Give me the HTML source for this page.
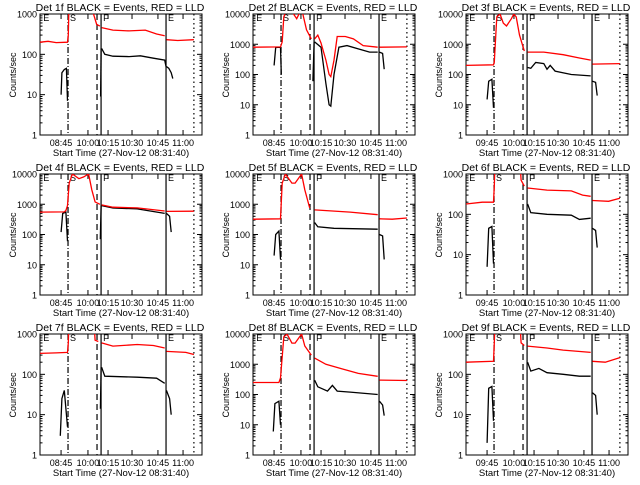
<!DOCTYPE html>
<html><head><meta charset="utf-8"><style>
html,body{margin:0;padding:0;background:#fff}
svg text{font-family:"Liberation Sans",sans-serif;fill:#000}
</style></head><body>
<svg id="c" width="640" height="480" xmlns="http://www.w3.org/2000/svg"></svg>
<script>
const tickLabelsA = ["08:45","10:00","10:15","10:30","10:45","11:00"];
const tickLabelsB = ["09:45","10:00","10:15","10:30","10:45","11:00"];
const tickTimes = [13, 29.6, 42, 56.8, 72.8, 88.3];
const markerTimes = [17.3, 35.2, 37.7, 77.8, 95];
const markerLetters = [["E",2],["S",18.5],["F",39],["E",79]];
const panelNames = ["Det 1f","Det 2f","Det 3f","Det 4f","Det 5f","Det 6f","Det 7f","Det 8f","Det 9f"];
const panelTops = [1000,10000,10000,10000,10000,1000,1000,10000,1000];
const panelTickSet = ["A","A","B","A","A","B","A","A","B"];

const p1Red=[[[0,200],[5,210],[10,195],[17,200],[17.5,300],[18,3000]],[[32,3000],[33,1000],[35,550],[37,500]],[[38,460],[45,400],[55,380],[65,400],[72,320],[77,290]],[[78,230],[85,220],[95,230]]];
const p1Black=[[[13,10],[13.5,35],[15,42],[16.3,45],[17,7]],[[37.4,9],[37.7,140]],[[38,140],[40,100],[45,90],[55,88],[62,92],[70,80],[77,72],[77.8,50]],[[78,50],[79.5,45],[81,35],[82,25]]];
const p2Red=[[[0,800],[17,820],[18,1200],[19,8000],[21,15000],[24,12000],[27,7000],[30,15000],[33,3000],[36,1500]],[[38,1500],[40,2000],[42,1100],[45,300],[47,100],[48,85],[50,300],[52,1800],[57,1800],[62,1500],[68,900],[77,800]],[[78,800],[95,820]]];
const p2Black=[[[13,200],[14,780],[17,800],[17.5,100]],[[37,60],[37.7,1200]],[[38,1200],[42,800],[45,50],[47,10],[48,9],[50,100],[53,800],[58,900],[65,700],[72,550],[77,550]],[[78,550],[80,500],[81,150]]];
const p3Red=[[[0,200],[17,210],[17.5,260],[19,8000],[21,10000],[23,5000],[25,4000],[28,7000],[29.5,10000],[31,8000],[33,2000],[36,600]],[[38,550],[48,550],[60,450],[70,350],[77,300]],[[78,220],[95,230]]];
const p3Black=[[[13,15],[14,60],[16,70],[17,8]],[[38,170],[40,160],[43,250],[48,230],[50,150],[52,200],[55,130],[65,100],[77,90]],[[78,60],[80,55],[81,20]]];
const p4Red=[[[0,550],[15,560],[16,620],[17,900],[18,5000],[20,10000],[24,7000],[27,8000],[30,10000],[32,3000],[34,1200],[37,1000]],[[38,950],[45,800],[60,760],[77,600]],[[78,580],[95,590]]];
const p4Black=[[[13,120],[14,500],[16,550],[17,60]],[[37.2,70],[37.7,900]],[[38,900],[45,750],[60,700],[77,500]],[[78,500],[80,400],[81,120]]];
const p5Red=[[[0,320],[17,330],[18,5000],[20,10000],[24,5000],[26,5000],[30,10000],[32,3000],[35,750]],[[38,650],[60,550],[77,450]],[[78,330],[86,320],[95,350]]];
const p5Black=[[[13,20],[14,100],[16,130],[17,15]],[[38,250],[40,180],[50,160],[77,150]],[[78,100],[80,90],[81,15]]];
const p6Red=[[[0,180],[10,200],[17,200],[17.5,500],[18,3000]],[[33,3000],[34,700],[36,500]],[[38,450],[50,400],[65,380],[72,300],[77,280]],[[78,220],[88,210],[95,250]]];
const p6Black=[[[13,5],[14,45],[16,50],[17,6]],[[38,180],[40,110],[50,100],[65,95],[70,75],[77,80]],[[78,45],[80,40],[81,15]]];
const p7Red=[[[0,330],[10,340],[17,350],[17.5,600],[18,3000]],[[33,3000],[34,700],[36,650]],[[38,600],[45,500],[60,550],[70,520],[77,450]],[[78,370],[90,350],[95,310]]];
const p7Black=[[[12.5,3],[13.5,25],[15,40],[17,5]],[[37.3,14],[37.7,150]],[[38,150],[40,90],[60,85],[72,80],[77,60]],[[78,40],[80,25],[81,10]]];
const p8Red=[[[0,250],[16,250],[17,350],[19,8000],[21,10000],[24,5000],[26,5000],[30,10000],[32,4000],[36,2000]],[[38,1600],[45,1000],[55,700],[65,500],[77,400]],[[78,300],[95,290]]];
const p8Black=[[[12.5,6],[13.5,50],[16,60],[17,10]],[[38,300],[40,180],[46,130],[49,200],[52,130],[60,120],[77,100]],[[78,60],[80,45],[81,20]]];
const p9Red=[[[0,200],[17,210],[17.5,600],[18,3000]],[[33,3000],[34,600],[36,520]],[[38,500],[50,450],[60,400],[77,350]],[[78,210],[86,200],[95,260]]];
const p9Black=[[[13,2],[14,45],[16,50],[17,7]],[[38,200],[40,120],[45,140],[50,110],[60,100],[70,90],[77,90]],[[78,35],[80,30],[81,10]]];
const redSets=[p1Red,p2Red,p3Red,p4Red,p5Red,p6Red,p7Red,p8Red,p9Red];
const blackSets=[p1Black,p2Black,p3Black,p4Black,p5Black,p6Black,p7Black,p8Black,p9Black];

const NS="http://www.w3.org/2000/svg";
const svg=document.getElementById('c');
function mk(tag,attrs,parent){const e=document.createElementNS(NS,tag);for(const k in attrs)e.setAttribute(k,attrs[k]);parent.appendChild(e);return e;}
const X0=40,X1=202,Y0=14,Y1=135;
for(let p=0;p<9;p++){
  const col=p%3,row=Math.floor(p/3);
  const g=mk('g',{transform:`translate(${col*213},${row*160})`},svg);
  
  
  const top=panelTops[p];const dec=Math.log10(top);
  const xs=t=>X0+t*(X1-X0)/100;
  const ys=v=>Y1-Math.log10(Math.max(v,0.5))/dec*(Y1-Y0);
  const cid='clip'+p;
  const cp=mk('clipPath',{id:cid},g);mk('rect',{x:X0,y:Y0,width:X1-X0,height:Y1-Y0},cp);
  // title
  const ti=mk('text',{x:120,y:11,'font-size':10.5,'text-anchor':'middle'},g);
  ti.textContent=panelNames[p]+" BLACK = Events, RED = LLD";
  
  // axes box
  const box=mk('rect',{x:X0,y:Y0,width:X1-X0,height:Y1-Y0,fill:'none',stroke:'#000','stroke-width':1},g);
  
  // y ticks
  for(let d=0;d<=dec;d++){
    const y=ys(Math.pow(10,d));
    mk('line',{x1:X0,x2:X0+5,y1:y,y2:y,stroke:'#000'},g);
    mk('line',{x1:X1-5,x2:X1,y1:y,y2:y,stroke:'#000'},g);
    const lb=mk('text',{x:37,y:y+3.5,'font-size':9,'text-anchor':'end'},g);
    lb.textContent=String(Math.pow(10,d));
    
    if(d<dec){for(let m=2;m<10;m++){const ym=ys(m*Math.pow(10,d));
      mk('line',{x1:X0,x2:X0+2.5,y1:ym,y2:ym,stroke:'#000'},g);
      mk('line',{x1:X1-2.5,x2:X1,y1:ym,y2:ym,stroke:'#000'},g);}}
  }
  const yl=mk('text',{x:0,y:0,'font-size':9,'text-anchor':'middle',transform:'translate(16,75) rotate(-90)'},g);
  yl.textContent="Counts/sec";
  // x ticks
  const labs=panelTickSet[p]==="A"?tickLabelsA:tickLabelsB;
  for(let i=0;i<tickTimes.length;i++){const x=xs(tickTimes[i]);
    mk('line',{x1:x,x2:x,y1:Y1,y2:Y1-5,stroke:'#000'},g);
    mk('line',{x1:x,x2:x,y1:Y0,y2:Y0+5,stroke:'#000'},g);
    const lb=mk('text',{x:x,y:146,'font-size':9,'text-anchor':'middle'},g);
    lb.textContent=labs[i];}
  const xl=mk('text',{x:121,y:156,'font-size':9.5,'text-anchor':'middle'},g);
  xl.textContent="Start Time (27-Nov-12 08:31:40)";
  // markers
  const dashes=['6,2,1,2','6,4','','','1.5,3'];
  markerTimes.forEach((t,i)=>{const x=xs(t);
    const ln=mk('line',{x1:x,x2:x,y1:Y0,y2:Y1,stroke:'#000','stroke-width':1.2},g);
    if(dashes[i])ln.setAttribute('stroke-dasharray',dashes[i]);
    });
  markerLetters.forEach(([L,t])=>{const tx=mk('text',{x:xs(t),y:Y0+7,'font-size':9},g);tx.textContent=L;
    });
  // series
  const dg=mk('g',{'clip-path':`url(#${cid})`},g);
  const draw=(sets,color,name)=>sets.forEach(seg=>{
    const d=seg.map((pt,i)=>(i?'L':'M')+xs(pt[0]).toFixed(1)+','+ys(pt[1]).toFixed(1)).join(' ');
    const pa=mk('path',{d:d,fill:'none',stroke:color,'stroke-width':1.3},dg);
    });
  draw(blackSets[p],'#000','events-line');
  draw(redSets[p],'#ff0000','lld-line');
}
</script>
</body></html>
